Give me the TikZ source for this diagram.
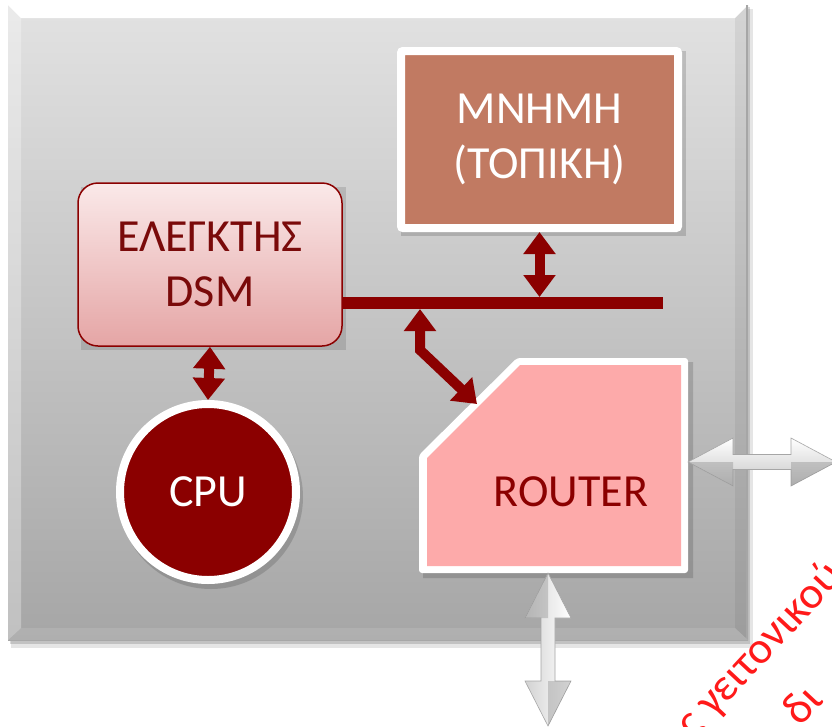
\documentclass[tikz,border=0pt]{standalone}
\usepackage{fontspec}
\setmainfont{Carlito}
\usetikzlibrary{arrows.meta,calc}
\definecolor{dred}{HTML}{8B0000}
\definecolor{ctrltxt}{HTML}{7A0A0A}
\definecolor{memfill}{HTML}{C17A62}
\definecolor{rtfill}{HTML}{FDAAAA}
\definecolor{boxtop}{HTML}{E2E2E2}
\definecolor{boxbot}{HTML}{A6A6A6}
\definecolor{ctrltop}{HTML}{FAE9E9}
\definecolor{ctrlbot}{HTML}{E5A5A5}
\definecolor{labred}{HTML}{FF1A1A}
\begin{document}
\begin{tikzpicture}[x=1pt,y=-1pt,
  bigfont/.style={font=\fontsize{46}{55}\selectfont},
  redlabel/.style={rotate=47, anchor=base west, text=labred, inner sep=0pt, font=\fontsize{45}{52}\selectfont},
  redarrow/.style={draw=dred, line width=10pt, line join=miter,
    {Triangle[width=31pt,length=22pt]}-{Triangle[width=31pt,length=22pt]}},
  grayarrow/.style={draw=gray!70, line width=0.6pt, top color=white, bottom color=gray!45},
  grayarrowv/.style={draw=gray!70, line width=0.6pt, left color=gray!35, right color=white},
  facet/.style={fill=gray, opacity=0.35}]
\useasboundingbox (0,0) rectangle (832,726);
\clip (0,0) rectangle (832,726);
\fill[white] (0,0) rectangle (832,726);

% outer board with shadow and bevel
\fill[black,opacity=0.10] (11,9) rectangle (753,648);
\fill[black,opacity=0.15] (10,7) rectangle (750,644);
\shade[top color=boxtop,bottom color=boxbot] (8,5) rectangle (748,640);
\fill[white] (8,5) -- (748,5) -- (735,18) -- (21,18) -- cycle;
\fill[black,opacity=0.06] (735,18) -- (748,5) -- (748,640) -- (735,628) -- cycle;
\draw[gray!70,line width=2.5pt] (746.75,5) -- (746.75,640);
\fill[gray!55,opacity=0.5] (8,640) -- (748,640) -- (735,628) -- (21,628) -- cycle;
\fill[white,opacity=0.3] (8,5) -- (21,18) -- (21,628) -- (8,640) -- cycle;

% memory
\fill[black,opacity=0.15] (401,51) rectangle (686,236);
\node[draw=white, line width=8pt, fill=memfill, minimum width=277pt, minimum height=177pt,
  rounded corners=2pt, inner sep=0pt, text=white, align=center, bigfont] (mem) at (539.5,139.5)
  {ΜΝΗΜΗ\\(ΤΟΠΙΚΗ)};

% controller
\fill[black,opacity=0.12] (81,187) rectangle (346,350);
\node[draw=dred, line width=1.5pt, top color=ctrltop, bottom color=ctrlbot, rounded corners=20pt,
  minimum width=264pt, minimum height=163pt, inner sep=0pt, text=ctrltxt, align=center, bigfont]
  (ctrl) at (210,264.5) {ΕΛΕΓΚΤΗΣ\\DSM};

% CPU
\fill[black,opacity=0.15] (211,497) circle (92);
\node[circle, draw=white, line width=8pt, fill=dred, minimum size=176pt, inner sep=0pt,
  text=white, bigfont] (cpu) at (208,492) {CPU};

% router
\fill[black,opacity=0.15] (423,459) -- (521,362) -- (693,362) -- (693,578) -- (423,578) -- cycle;
\fill[white, rounded corners=3pt] (419,455) -- (517,358) -- (688,358) -- (688,573) -- (419,573) -- cycle;
\fill[rtfill] (427,458) -- (520,365) -- (681,365) -- (681,566) -- (427,566) -- cycle;
\node[text=dred, bigfont, inner sep=0pt] (router) at (571,492) {ROUTER};

% bus
\coordinate (busL) at (342,303);
\coordinate (busR) at (663,303);
\draw[dred, line width=12pt] (busL) -- (busR);

% red connectors
\coordinate (memBus) at (539.5,297);
\coordinate (busJ) at (420,309);
\coordinate (rtIn) at (477,404);
\draw[redarrow] (mem.south) -- (memBus);
\draw[redarrow] (ctrl.south) -- (cpu.north);
\draw[redarrow] (busJ) -- ++(0,41) -- (rtIn);

% gray 3D arrows
\coordinate (gL) at (688,462);
\coordinate (gR) at (836,462);
\path[grayarrow] (gL) -- ++(45,-24) -- ++(0,16.5) -- ($(gR)+(-45,-7.5)$) -- ++(0,-16.5) -- (gR)
  -- ++(-45,24) -- ++(0,-16.5) -- ($(gL)+(45,7.5)$) -- ++(0,16.5) -- cycle;
\fill[facet] (gL) -- ++(45,0) -- ++(0,24) -- cycle;
\fill[facet] (gR) -- ++(-45,0) -- ++(0,24) -- cycle;

\coordinate (vT) at (548,573);
\coordinate (vB) at (548,726);
\path[grayarrowv] (vT) -- ++(23,45) -- ++(-16,0) -- ($(vB)+(7,-45)$) -- ++(16,0) -- (vB)
  -- ++(-23,-45) -- ++(16,0) -- ($(vT)+(-7,45)$) -- ++(-16,0) -- cycle;
\fill[facet] (vT) -- ++(0,45) -- ++(-23,0) -- cycle;
\fill[facet] (vB) -- ++(0,-45) -- ++(23,0) -- cycle;

% red rotated labels (cut off by the picture's edge, as in the original)
\node[redlabel] (lab1) at (713,719) {\llap{ς\ }γειτονικού};
\node[redlabel] (lab2) at (800,728) {δι};
\end{tikzpicture}
\end{document}
